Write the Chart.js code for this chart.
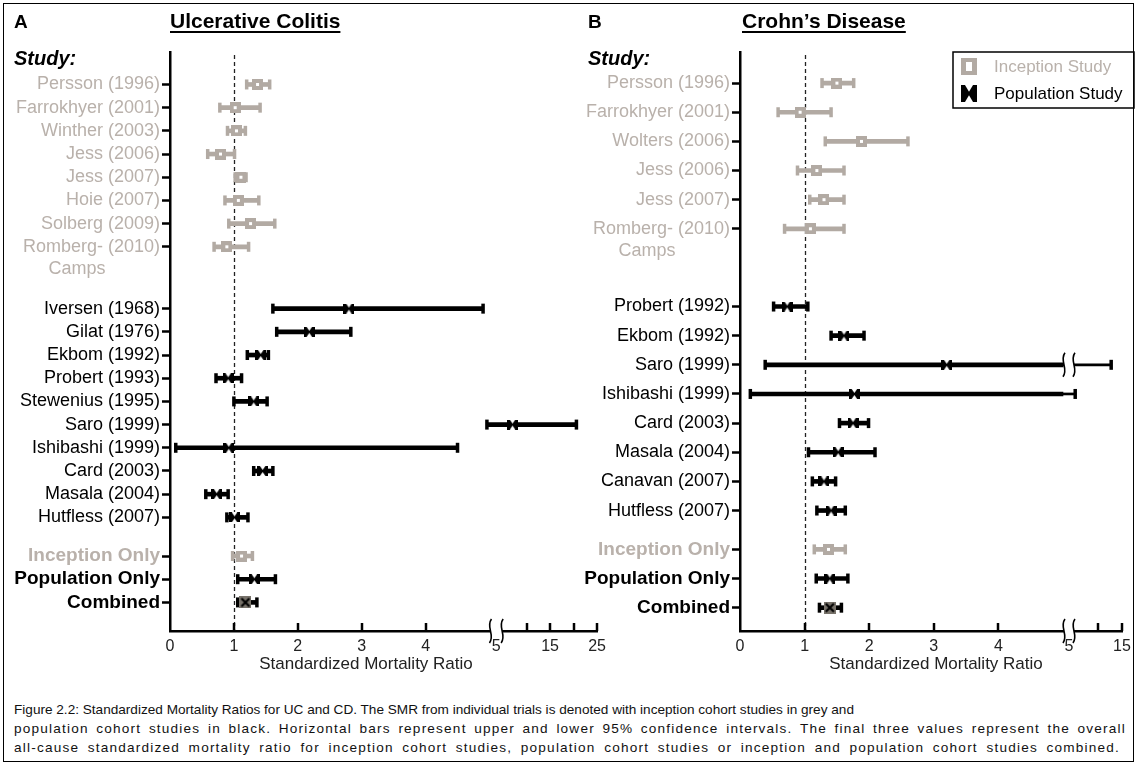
<!DOCTYPE html>
<html>
<head>
<meta charset="utf-8">
<script src="https://cdn.jsdelivr.net/npm/chart.js@4.4.0/dist/chart.umd.min.js"></script>
<style>
  body { margin: 0; background: #fff; }
  #fig { position: relative; width: 1138px; height: 766px; background: #fff; font-family: 'Liberation Sans', Arial, sans-serif; color: #000; overflow: hidden; }
  #frame { position: absolute; left: 3px; top: 3px; width: 1129px; height: 757px; border: 1.5px solid #000; pointer-events: none; z-index: 5; }
  canvas { position: absolute; top: 0; }
  .t { position: absolute; white-space: nowrap; line-height: 1; }
  .pl { font-size: 19px; font-weight: bold; }
  .ttl { font-size: 21px; font-weight: bold; text-decoration: underline; text-decoration-thickness: 2px; text-underline-offset: 3px; }
  .st { font-size: 20px; font-weight: bold; font-style: italic; }
  .cap { position: absolute; left: 14px; font-size: 13.6px; line-height: 19px; white-space: pre; color: #111; }
  .just { white-space: normal; text-align: justify; text-align-last: justify; letter-spacing: 1.2px; }
</style>
</head>
<body>
<div id="fig">
  <canvas id="cA" width="612" height="690" style="left:0px"></canvas>
  <canvas id="cB" width="569" height="690" style="left:569px"></canvas>
  <div class="t pl" style="left:14px; top:12px;">A</div>
  <div class="t ttl" style="left:170px; top:10px;">Ulcerative Colitis</div>
  <div class="t st" style="left:14px; top:48px;">Study:</div>
  <div class="t pl" style="left:588px; top:12px;">B</div>
  <div class="t ttl" style="left:742px; top:10px;">Crohn’s Disease</div>
  <div class="t st" style="left:588px; top:48px;">Study:</div>
  <div class="cap" style="top:700px;">Figure 2.2: Standardized Mortality Ratios for UC and CD. The SMR from individual trials is denoted with inception cohort studies in grey and</div>
  <div class="cap just" style="top:719px; width:1112px;">population cohort studies in black. Horizontal bars represent upper and lower 95% confidence intervals. The final three values represent the overall</div>
  <div class="cap just" style="top:738px; width:1106px;">all-cause standardized mortality ratio for inception cohort studies, population cohort studies or inception and population cohort studies combined.</div>
  <div id="frame"></div>
</div>
<script>
// ---- data: Ulcerative Colitis ----
const ucStudies = ['Persson (1996)', 'Farrokhyer (2001)', 'Winther (2003)', 'Jess (2006)', 'Jess (2007)', 'Hoie (2007)', 'Solberg (2009)', 'Romberg- (2010)',
  'Iversen (1968)', 'Gilat (1976)', 'Ekbom (1992)', 'Probert (1993)', 'Stewenius (1995)', 'Saro (1999)', 'Ishibashi (1999)', 'Card (2003)', 'Masala (2004)', 'Hutfless (2007)',
  'Inception Only', 'Population Only', 'Combined'];
const ucKind = ['inc', 'inc', 'inc', 'inc', 'inc', 'inc', 'inc', 'inc',
  'pop', 'pop', 'pop', 'pop', 'pop', 'pop', 'pop', 'pop', 'pop', 'pop',
  'incAll', 'popAll', 'comb'];
const ucSmr  = [1.37, 1.02, 1.04, 0.79, 1.11, 1.07, 1.26, 0.89, 2.80, 2.18, 1.42, 0.91, 1.31, 7.0, 0.92, 1.45, 0.73, 1.01, 1.12, 1.32, 1.18];
const ucLow  = [1.20, 0.78, 0.90, 0.59, 1.02, 0.86, 0.92, 0.69, 1.61, 1.67, 1.21, 0.72, 1.00, 4.96, 0.09, 1.31, 0.56, 0.89, 0.98, 1.06, 1.06];
const ucHigh = [1.56, 1.41, 1.18, 1.01, 1.19, 1.39, 1.64, 1.23, 4.90, 2.83, 1.54, 1.12, 1.52, 20.6, 4.50, 1.61, 0.91, 1.22, 1.29, 1.65, 1.36];

// ---- data: Crohn's Disease ----
const cdStudies = ['Persson (1996)', 'Farrokhyer (2001)', 'Wolters (2006)', 'Jess (2006)', 'Jess (2007)', 'Romberg- (2010)',
  'Probert (1992)', 'Ekbom (1992)', 'Saro (1999)', 'Ishibashi (1999)', 'Card (2003)', 'Masala (2004)', 'Canavan (2007)', 'Hutfless (2007)',
  'Inception Only', 'Population Only', 'Combined'];
const cdKind = ['inc', 'inc', 'inc', 'inc', 'inc', 'inc',
  'pop', 'pop', 'pop', 'pop', 'pop', 'pop', 'pop', 'pop',
  'incAll', 'popAll', 'comb'];
const cdSmr  = [1.50, 0.93, 1.88, 1.19, 1.30, 1.09, 0.73, 1.61, 3.20, 1.77, 1.75, 1.52, 1.30, 1.41, 1.37, 1.39, 1.39];
const cdLow  = [1.27, 0.59, 1.32, 0.89, 1.08, 0.69, 0.52, 1.41, 0.39, 0.16, 1.54, 1.06, 1.12, 1.19, 1.15, 1.18, 1.23];
const cdHigh = [1.76, 1.41, 2.60, 1.61, 1.61, 1.61, 1.05, 1.92, 12.7, 5.05, 1.99, 2.09, 1.48, 1.63, 1.63, 1.67, 1.57];

// x axis ticks
const ucTicks = [0, 1, 2, 3, 4, 5, 10, 15, 20, 25];
const ucTickLabels = ['0', '1', '2', '3', '4', '5', '', '15', '', '25'];
const cdTicks = [0, 1, 2, 3, 4, 5, 10, 15];
const cdTickLabels = ['0', '1', '2', '3', '4', '5', '', '15'];

const GREY = '#b2aaa3';
const GREY_TXT = '#b9b1ab';
const COMB = '#77726a';
const FONT = "'Liberation Sans', Arial, sans-serif";

// linear scale with a break at "brk": [min,brk] takes brkFrac of the width, then a gap, then [brk,max]
class BrokenScale extends Chart.LinearScale {
  static id = 'broken';
  static defaults = Chart.LinearScale.defaults;
  _frac(v) {
    const o = this.options, b = o.brk, f = o.brkFrac, g = o.gapFrac;
    if (v <= b) return (v - this.min) / (b - this.min) * f;
    return f + g + (v - b) / (this.max - b) * (1 - f - g);
  }
  getPixelForValue(v) {
    return this.left + this._frac(v) * this.width;
  }
  getValueForPixel(p) {
    const o = this.options, b = o.brk, f = o.brkFrac, g = o.gapFrac;
    const fr = (p - this.left) / this.width;
    if (fr <= f) return this.min + fr / f * (b - this.min);
    return b + (fr - f - g) / (1 - f - g) * (this.max - b);
  }
  breakPixels() {
    const o = this.options;
    return [this.left + o.brkFrac * this.width, this.left + (o.brkFrac + o.gapFrac) * this.width];
  }
  getPixelForTick(i) {
    const t = this.ticks[i];
    if (t && t.value === this.options.brk) {
      const bp = this.breakPixels();
      return (bp[0] + bp[1]) / 2;
    }
    return super.getPixelForTick(i);
  }
}
Chart.register(BrokenScale);

function mk(w, h, draw) {
  const c = document.createElement('canvas');
  c.width = w; c.height = h;
  draw(c.getContext('2d'), w, h);
  return c;
}
function bowtie(g, w, h) {
  g.fillStyle = '#000'; g.fillRect(0, 0, w, h);
  g.fillStyle = '#fff';
  g.beginPath(); g.moveTo(w * 0.25, 0); g.lineTo(w * 0.75, 0); g.lineTo(w / 2, h * 0.4); g.closePath(); g.fill();
  g.beginPath(); g.moveTo(w * 0.25, h); g.lineTo(w * 0.75, h); g.lineTo(w / 2, h * 0.6); g.closePath(); g.fill();
}
const markers = {
  inc: mk(11, 11, (g) => { g.fillStyle = GREY; g.fillRect(0, 0, 11, 11); g.fillStyle = '#fff'; g.fillRect(4, 4, 3, 3); }),
  pop: mk(11, 10, bowtie),
  comb: mk(12, 12, (g) => {
    g.fillStyle = COMB; g.fillRect(0, 0, 12, 12);
    g.strokeStyle = '#000'; g.lineWidth = 2.2;
    g.beginPath(); g.moveTo(2, 2); g.lineTo(10, 10); g.moveTo(10, 2); g.lineTo(2, 10); g.stroke();
  })
};
markers.incAll = markers.inc;
markers.popAll = markers.pop;
const legendInc = mk(16, 17, (g) => { g.fillStyle = GREY; g.fillRect(0, 0, 16, 17); g.fillStyle = '#fff'; g.fillRect(5, 4, 6, 9); });
const legendPop = mk(16, 17, bowtie);

function barColor(k) { return (k === 'inc' || k === 'incAll') ? GREY : '#000'; }
function labelColor(k) { return (k === 'inc' || k === 'incAll') ? GREY_TXT : '#000'; }
function isSummary(k) { return k === 'incAll' || k === 'popAll' || k === 'comb'; }

// row positions on the y axis: 3 slots per row, wider gaps between groups
function rowSlots(kind, gapPop, gapSum) {
  const out = [];
  let s = 0;
  kind.forEach((k, i) => {
    if (i > 0) {
      const prev = kind[i - 1];
      if (prev === 'inc' && k === 'pop') s += gapPop;
      else if (prev === 'pop' && k !== 'pop') s += gapSum;
      else s += 3;
    }
    out.push(s);
  });
  return out;
}

function squiggle(ctx, x0, x1, cy, h, lw, cover) {
  ctx.save();
  ctx.fillStyle = '#fff';
  ctx.fillRect(x0, cy - cover / 2, x1 - x0, cover);
  ctx.strokeStyle = '#000';
  ctx.lineWidth = lw;
  [x0, x1].forEach(x => {
    ctx.beginPath();
    ctx.moveTo(x + 1, cy - h / 2);
    ctx.bezierCurveTo(x - 5, cy - h / 6, x + 5, cy + h / 6, x - 1, cy + h / 2);
    ctx.stroke();
  });
  ctx.restore();
}

const decor = {
  id: 'decor',
  beforeDatasetsDraw(chart, args, o) {
    const {ctx, chartArea: a} = chart;
    const x = chart.scales.x;
    const px = Math.round(x.getPixelForValue(1)) + 0.5;
    ctx.save();
    ctx.strokeStyle = '#222';
    ctx.lineWidth = 1.3;
    ctx.setLineDash([4, 3]);
    ctx.beginPath(); ctx.moveTo(px, a.top + 3); ctx.lineTo(px, a.bottom); ctx.stroke();
    ctx.restore();
  },
  afterDraw(chart, args, o) {
    const {ctx, chartArea: a} = chart;
    const x = chart.scales.x, y = chart.scales.y;
    // inward x ticks
    ctx.save();
    ctx.strokeStyle = '#000';
    ctx.lineWidth = 2.5;
    o.ticks.forEach(v => {
      if (v === 0 || v === o.brk) return;
      const px = Math.round(x.getPixelForValue(v));
      ctx.beginPath(); ctx.moveTo(px, a.bottom); ctx.lineTo(px, a.bottom - 8); ctx.stroke();
    });
    ctx.restore();
    const bp = x.breakPixels();
    squiggle(ctx, bp[0] + 1, bp[1] - 1, a.bottom, 24, 1.6, 4);
    // break on bars crossing it
    if (o.barBreaks) {
      o.high.forEach((h, i) => {
        if (o.low[i] < o.brk && h > o.brk + 1) {
          squiggle(ctx, bp[0] + 1, bp[1] - 1, y.getPixelForValue(o.slots[i]), 24, 1.6, 6);
        }
      });
    }
    // axis title
    ctx.save();
    ctx.font = '17px ' + FONT;
    ctx.fillStyle = '#222';
    ctx.textAlign = 'center';
    ctx.textBaseline = 'middle';
    ctx.fillText('Standardized Mortality Ratio', o.titleX, 664);
    ctx.restore();
    // second line of the Romberg label
    const ri = o.names.indexOf('Romberg- (2010)');
    ctx.save();
    ctx.font = '18px ' + FONT;
    const w = ctx.measureText(o.names[ri]).width;
    const right = a.left - 8 - 2;
    ctx.fillStyle = GREY_TXT;
    ctx.textAlign = 'center';
    ctx.textBaseline = 'middle';
    ctx.fillText('Camps', right - w + 54, y.getPixelForValue(o.slots[ri]) + 22);
    ctx.restore();
    if (o.legend) {
      const L = o.legend;
      ctx.save();
      ctx.strokeStyle = '#000'; ctx.lineWidth = 1.5;
      ctx.strokeRect(L.x, L.y, L.w, L.h);
      ctx.drawImage(legendInc, L.x + 8, L.y + 6);
      ctx.drawImage(legendPop, L.x + 8, L.y + 33);
      ctx.font = '17px ' + FONT;
      ctx.textBaseline = 'middle';
      ctx.fillStyle = GREY_TXT; ctx.fillText('Inception Study', L.x + 41, L.y + 15);
      ctx.fillStyle = '#000'; ctx.fillText('Population Study', L.x + 41, L.y + 42);
      ctx.restore();
    }
  }
};

function buildPanel(p) {
  const slots = rowSlots(p.kind, p.gapPop, p.gapSum);
  const nameBySlot = {}, kindBySlot = {};
  slots.forEach((s, i) => { nameBySlot[s] = p.names[i]; kindBySlot[s] = p.kind[i]; });
  const thickHigh = p.high.map(h => (p.thinAfterBreak && h > p.brk) ? p.brk : h);
  const thinRows = p.high.map((h, i) => i).filter(i => p.thinAfterBreak && p.high[i] > p.brk);
  const caps = [], capColors = [];
  slots.forEach((s, i) => {
    caps.push({x: p.low[i], y: s}, {x: p.high[i], y: s});
    capColors.push(barColor(p.kind[i]), barColor(p.kind[i]));
  });
  return new Chart(document.getElementById(p.canvas), {
    type: 'scatter',
    data: {
      datasets: [
        {
          type: 'bar', indexAxis: 'y', order: 3, grouped: false, barThickness: 4,
          data: slots.map((s, i) => ({y: s, x: [p.low[i], thickHigh[i]]})),
          backgroundColor: p.kind.map(barColor)
        },
        {
          type: 'bar', indexAxis: 'y', order: 3, grouped: false, barThickness: 2,
          data: thinRows.map(i => ({y: slots[i], x: [p.brk, p.high[i]]})),
          backgroundColor: thinRows.map(i => barColor(p.kind[i]))
        },
        {
          type: 'scatter', order: 2, data: caps,
          pointStyle: 'line', pointRotation: 90, pointRadius: 5,
          pointBorderWidth: 3.5, pointBorderColor: capColors
        },
        {
          type: 'scatter', order: 1,
          data: slots.map((s, i) => ({x: p.smr[i], y: s})),
          pointStyle: (c) => markers[p.kind[c.dataIndex]],
          pointRadius: 6
        }
      ]
    },
    options: {
      responsive: false,
      animation: false,
      events: [],
      layout: {padding: {top: 52, right: p.padRight, left: 0, bottom: 0}},
      plugins: {
        legend: {display: false},
        tooltip: {enabled: false},
        decor: {ticks: p.ticks, brk: p.brk, high: p.high, low: p.low, slots: slots, names: p.names,
          legend: p.legend, barBreaks: p.thinAfterBreak, titleX: p.titleX}
      },
      scales: {
        x: {
          type: 'broken', position: 'bottom',
          min: 0, max: p.max, brk: p.brk, brkFrac: p.brkFrac, gapFrac: p.gapFrac,
          offset: false,
          afterBuildTicks: (s) => { s.ticks = p.ticks.map(v => ({value: v})); },
          afterFit: (s) => { s.height = 59; },
          grid: {display: false, drawTicks: false, offset: false},
          border: {display: true, color: '#000', width: 2.5},
          ticks: {
            autoSkip: false, maxRotation: 0, padding: 6, color: '#222',
            font: {size: 16, family: FONT},
            callback: (v) => p.tickLabels[p.ticks.indexOf(v)]
          },
          title: {display: false}
        },
        y: {
          type: 'linear', position: 'left', reverse: true,
          min: p.yMin, max: p.yMax,
          offset: false,
          afterBuildTicks: (s) => { s.ticks = slots.map(v => ({value: v})); },
          afterFit: (s) => { s.width = p.yWidth; },
          grid: {display: true, offset: false, drawOnChartArea: false, drawTicks: true, tickLength: 8, tickWidth: 2.5, tickColor: '#000'},
          border: {display: true, color: '#000', width: 2.5},
          ticks: {
            autoSkip: false, padding: 2,
            callback: (v) => nameBySlot[v],
            color: (c) => labelColor(kindBySlot[c.tick.value]),
            font: (c) => {
              const k = kindBySlot[c.tick && c.tick.value];
              return isSummary(k) ? {size: 19, family: FONT, weight: 'bold'} : {size: 18, family: FONT, weight: 'normal'};
            }
          }
        }
      }
    },
    plugins: [decor]
  });
}

buildPanel({
  canvas: 'cA', names: ucStudies, kind: ucKind, smr: ucSmr, low: ucLow, high: ucHigh,
  ticks: ucTicks, tickLabels: ucTickLabels,
  gapPop: 8, gapSum: 5, yMin: -4.2, yMax: 70.7,
  max: 25, brk: 5, brkFrac: 0.748, gapFrac: 0.032,
  yWidth: 170, padRight: 13, thinAfterBreak: false, legend: null, titleX: 366
});
buildPanel({
  canvas: 'cB', names: cdStudies, kind: cdKind, smr: cdSmr, low: cdLow, high: cdHigh,
  ticks: cdTicks, tickLabels: cdTickLabels,
  gapPop: 8, gapSum: 4, yMin: -3.2, yMax: 56.4,
  max: 15, brk: 5, brkFrac: 0.8455, gapFrac: 0.0314,
  yWidth: 171, padRight: 16, thinAfterBreak: true,
  legend: {x: 384, y: 52, w: 181, h: 56}, titleX: 367
});
</script>
</body>
</html>
